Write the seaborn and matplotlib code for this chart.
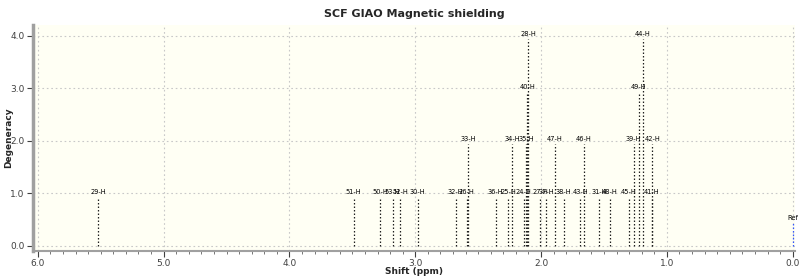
import matplotlib
matplotlib.use("Agg")
import matplotlib.pyplot as plt
from matplotlib.ticker import MultipleLocator
import seaborn as sns
import pandas as pd

labels = ["29-H", "51-H", "50-H", "53-H", "52-H", "30-H", "32-H", "26-H", "33-H",
          "36-H", "25-H", "34-H", "24-H", "35-H", "40-H", "28-H", "27-H", "37-H",
          "47-H", "38-H", "43-H", "46-H", "31-H", "48-H", "45-H", "39-H", "49-H",
          "44-H", "41-H", "42-H", "Ref"]
shifts = [5.52, 3.49, 3.28, 3.18, 3.12, 2.98, 2.68, 2.59, 2.577,
          2.36, 2.262, 2.231, 2.138, 2.119, 2.108, 2.100, 2.006, 1.96,
          1.892, 1.82, 1.687, 1.661, 1.54, 1.455, 1.303, 1.263, 1.223,
          1.191, 1.122, 1.116, 0.0]
levels = [1, 1, 1, 1, 1, 1, 1, 1, 2,
          1, 1, 2, 1, 2, 3, 4, 1, 1,
          2, 1, 1, 2, 1, 1, 1, 2, 3,
          4, 1, 2, 0.5]

df = pd.DataFrame({"label": labels, "shift": shifts, "level": levels})

sns.set_theme(style="ticks")
plt.rcParams["font.family"] = ["DejaVu Sans"]

fig = plt.figure(figsize=(8, 2.79), dpi=100)
ax = fig.add_axes([0.041, 0.100, 0.953, 0.810])
ax.set_facecolor("#fffff4")

ax.set_xlim(6.04, -0.02)
ax.set_ylim(-0.1, 4.2)

ax.xaxis.set_major_locator(MultipleLocator(1.0))
ax.xaxis.set_minor_locator(MultipleLocator(0.1))
ax.yaxis.set_major_locator(MultipleLocator(1.0))
ax.xaxis.set_major_formatter(matplotlib.ticker.FormatStrFormatter("%.1f"))
ax.yaxis.set_major_formatter(matplotlib.ticker.FormatStrFormatter("%.1f"))

ax.grid(True, which="major", color="#c8c8c8", linestyle=(0, (1.5, 2.5)), linewidth=0.8)
ax.set_axisbelow(True)

for _, r in df.iterrows():
    col = "#3355ff" if r["label"] == "Ref" else "#202020"
    ax.vlines(r["shift"], 0, r["level"] - 0.07, colors=col,
              linestyles=(0, (1.2, 1.6)), linewidth=0.9)
    ax.text(r["shift"], r["level"] + 0.03, r["label"], ha="center", va="center",
            fontsize=4.8, color="#000000")

sns.despine(ax=ax, top=True, right=True)
ax.spines["left"].set_color("#a0a0a0")
ax.spines["left"].set_linewidth(2.5)
ax.spines["bottom"].set_color("#a0a0a0")
ax.spines["bottom"].set_linewidth(1.5)

ax.tick_params(axis="both", which="major", labelsize=6.5, colors="#404040",
               length=4, width=0.8, pad=2)
ax.tick_params(axis="x", which="minor", length=2, width=0.6, colors="#606060")

ax.set_title("SCF GIAO Magnetic shielding", fontsize=8, fontweight="bold", pad=6)
ax.set_xlabel("Shift (ppm)", fontsize=6.5, fontweight="bold")
ax.set_ylabel("Degeneracy", fontsize=6.5, fontweight="bold")
ax.xaxis.set_label_coords(0.5, -0.072)
ax.yaxis.set_label_coords(-0.026, 0.5)

fig.savefig("out.png", dpi=100)
